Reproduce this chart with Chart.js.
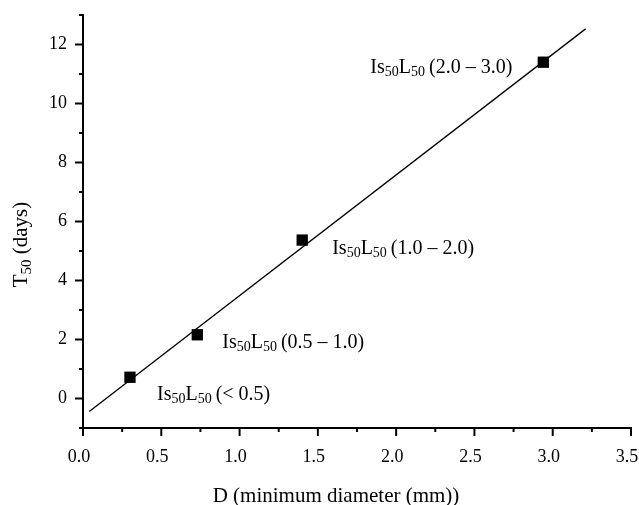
<!DOCTYPE html>
<html>
<head>
<meta charset="utf-8">
<script src="https://cdn.jsdelivr.net/npm/chart.js@4/dist/chart.umd.min.js"></script>
<style>
  html, body { margin: 0; padding: 0; background: #fff; }
  #wrap { width: 639px; height: 505px; }
</style>
</head>
<body>
<div id="wrap"><canvas id="c" width="639" height="505"></canvas></div>
<script>
// Measured specimens: minimum diameter D (mm) against T50 (days)
const diameters = [0.30, 0.73, 1.40, 2.94];
const t50Days = [0.72, 2.16, 5.37, 11.40];
const sizeClasses = ['< 0.5', '0.5 \u2013 1.0', '1.0 \u2013 2.0', '2.0 \u2013 3.0'];

// Linear fit drawn across the data
const fitX = [0.04, 3.21];
const fitY = [-0.44, 12.53];

// Axis tick positions
const xMajorTicks = [0, 0.5, 1, 1.5, 2, 2.5, 3, 3.5];
const xMinorTicks = [0.25, 0.75, 1.25, 1.75, 2.25, 2.75, 3.25];
const yMajorTicks = [0, 2, 4, 6, 8, 10, 12];
const yMinorTicks = [-1, 1, 3, 5, 7, 9, 11, 13];

const SERIF = '"Liberation Serif", "Times New Roman", serif';
const TICK_FS = 18;
const LABEL_FS = 20;
const TITLE_FS = 21;

// Pixel offsets of each class label relative to its point (align: left or right edge)
const labelPlacement = [
  { dx: 27, dy: 17, align: 'left' },
  { dx: 25, dy: 7, align: 'left' },
  { dx: 30, dy: 8, align: 'left' },
  { dx: -31, dy: 5, align: 'right' }
];

// Draws a run of text pieces where some pieces are subscripts
function drawRich(ctx, pieces, x, y, align, fs) {
  const subSize = Math.round(fs * 0.72);
  const widths = pieces.map(p => {
    ctx.font = (p.sub ? subSize : fs) + 'px ' + SERIF;
    return ctx.measureText(p.t).width;
  });
  const total = widths.reduce((a, b) => a + b, 0);
  let cx = align === 'right' ? x - total : (align === 'center' ? x - total / 2 : x);
  ctx.textBaseline = 'alphabetic';
  ctx.textAlign = 'left';
  pieces.forEach((p, i) => {
    ctx.font = (p.sub ? subSize : fs) + 'px ' + SERIF;
    ctx.fillText(p.t, cx, y + (p.sub ? Math.round(fs * 0.17) : 0));
    cx += widths[i];
  });
}

function classPieces(cls) {
  return [
    { t: 'Is' }, { t: '50', sub: true }, { t: 'L' }, { t: '50', sub: true },
    { t: '\u2009(' + cls + ')' }
  ];
}

const decorations = {
  id: 'decorations',
  afterDraw(chart) {
    const ctx = chart.ctx;
    const xs = chart.scales.x, ys = chart.scales.y;
    const area = chart.chartArea;
    ctx.save();
    ctx.strokeStyle = '#000';
    ctx.lineWidth = 2;
    ctx.lineCap = 'butt';
    const tick = (x1, y1, x2, y2) => { ctx.beginPath(); ctx.moveTo(x1, y1); ctx.lineTo(x2, y2); ctx.stroke(); };
    xMajorTicks.forEach(v => { const p = xs.getPixelForValue(v); tick(p, area.bottom, p, area.bottom + 8); });
    xMinorTicks.forEach(v => { const p = xs.getPixelForValue(v); tick(p, area.bottom, p, area.bottom + 4); });
    yMajorTicks.forEach(v => { const p = ys.getPixelForValue(v); tick(area.left, p, area.left - 8, p); });
    yMinorTicks.forEach(v => { const p = ys.getPixelForValue(v); tick(area.left, p, area.left - 4, p); });

    // class labels beside each point
    ctx.fillStyle = '#000';
    sizeClasses.forEach((cls, i) => {
      const px = xs.getPixelForValue(diameters[i]);
      const py = ys.getPixelForValue(t50Days[i]);
      const pl = labelPlacement[i];
      drawRich(ctx, classPieces(cls), px + pl.dx, py + pl.dy + 6, pl.align, LABEL_FS);
    });

    // x-axis title
    drawRich(ctx, [{ t: 'D (minimum diameter (mm))' }], (area.left + area.right) / 2 - 21, 502, 'center', TITLE_FS);

    // rotated y-axis title with subscript
    ctx.translate(27, (area.top + area.bottom) / 2 + 23);
    ctx.rotate(-Math.PI / 2);
    drawRich(ctx, [{ t: 'T' }, { t: '50', sub: true }, { t: ' (days)' }], 0, 0, 'center', TITLE_FS);
    ctx.restore();
  }
};

const points = diameters.map((d, i) => ({ x: d, y: t50Days[i] }));
const fitPoints = fitX.map((x, i) => ({ x, y: fitY[i] }));

new Chart(document.getElementById('c'), {
  type: 'scatter',
  data: {
    datasets: [
      {
        data: fitPoints,
        showLine: true,
        borderColor: '#000',
        borderWidth: 1.3,
        pointRadius: 0,
        order: 2
      },
      {
        data: points,
        pointStyle: 'rect',
        pointRadius: 8,
        backgroundColor: '#000',
        borderColor: '#000',
        borderWidth: 0,
        order: 1
      }
    ]
  },
  options: {
    responsive: false,
    animation: false,
    devicePixelRatio: 1,
    layout: { padding: { top: 15, right: 7, left: 0, bottom: 0 } },
    plugins: { legend: { display: false }, tooltip: { enabled: false } },
    scales: {
      x: {
        type: 'linear',
        position: 'bottom',
        min: 0,
        max: 3.5,
        afterFit(s) { s.height = 77; s.paddingRight = 0; s.paddingLeft = 0; },
        grid: { display: true, drawOnChartArea: false, drawTicks: true, tickLength: 8, tickColor: 'transparent' },
        border: { display: true, color: '#000', width: 2 },
        ticks: {
          stepSize: 0.5, autoSkip: false, maxRotation: 0, padding: 10, labelOffset: -4,
          color: '#000', font: { family: SERIF, size: TICK_FS },
          callback: v => v.toFixed(1)
        }
      },
      y: {
        type: 'linear',
        min: -1,
        max: 13,
        afterFit(s) { s.width = 83; s.paddingTop = 0; s.paddingBottom = 0; },
        grid: { display: true, drawOnChartArea: false, drawTicks: true, tickLength: 8, tickColor: 'transparent' },
        border: { display: true, color: '#000', width: 2 },
        ticks: {
          stepSize: 1, autoSkip: false, padding: 8,
          color: '#000', font: { family: SERIF, size: TICK_FS },
          callback: v => (v >= 0 && v % 2 === 0) ? String(v) : ''
        }
      }
    }
  },
  plugins: [decorations]
});
</script>
</body>
</html>
